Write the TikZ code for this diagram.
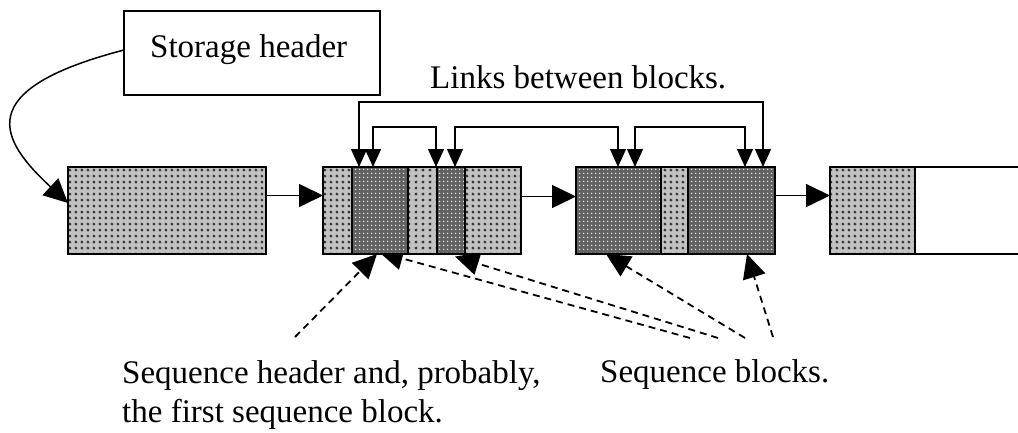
\documentclass[tikz,border=0pt]{standalone}
\usepackage{fontspec}
\setmainfont{Liberation Serif}
\usetikzlibrary{arrows.meta,patterns.meta}
\pgfdeclarelayer{bg}
\pgfsetlayers{bg,main}
\begin{document}
\begin{tikzpicture}[x=1pt,y=-1pt,
  seg/.style={line width=1.6pt, inner sep=0pt, outer sep=0pt, minimum height=87pt, anchor=north west},
  lightseg/.style={seg, fill=black!24, postaction={pattern={Dots[radius=1.7pt,distance=6.4pt]}, pattern color=black!78}, postaction={draw, line width=1.6pt}},
  darkseg/.style={seg, fill=black!62, postaction={pattern={Dots[radius=1pt,distance=4pt]}, pattern color=white!85!black}, postaction={draw, line width=1.6pt}},
  lbl/.style={font=\fontsize{33}{39}\selectfont, inner sep=0pt, anchor=base west, text=black},
  bigtip/.style={-{Triangle[length=24pt,width=23pt]}},
  solidarr/.style={bigtip, line width=1.5pt},
  dasharr/.style={bigtip, line width=1.8pt, dash pattern=on 7pt off 5pt},
  link/.style={line width=1.4pt, {Triangle[length=18pt,width=16pt]}-{Triangle[length=18pt,width=16pt]}},
  boxline/.style={line width=1.6pt}
]
\useasboundingbox (0,0) rectangle (1018,432);

% storage header
\node[draw, line width=1.5pt, inner sep=0pt, outer sep=0pt, minimum width=256pt, minimum height=84pt, anchor=north west] (sh) at (124,11) {};
\node[lbl] (shtext) at (150,57) {Storage header};

% blocks
\node[lightseg, minimum width=198pt] (b1) at (68,167) {};
\node[lightseg, minimum width=29pt] (b2a) at (323,167) {};
\node[darkseg,  minimum width=56pt] (b2b) at (352,167) {};
\node[lightseg, minimum width=29pt] (b2c) at (408,167) {};
\node[darkseg,  minimum width=28pt] (b2d) at (437,167) {};
\node[lightseg, minimum width=56pt] (b2e) at (465,167) {};
\node[darkseg,  minimum width=85pt] (b3a) at (576,167) {};
\node[lightseg, minimum width=27pt] (b3b) at (661,167) {};
\node[darkseg,  minimum width=87pt] (b3c) at (688,167) {};
\node[lightseg, minimum width=85pt] (b4a) at (830,167) {};
\coordinate (e4t) at (1018,167);
\coordinate (e4b) at (1018,254);
\draw[boxline] (b4a.north east) -- (e4t);
\draw[boxline] (b4a.south east) -- (e4b);

% arrows between blocks
\draw[solidarr] ([yshift=15pt]b1.east) -- ([yshift=15pt]b2a.west);
\draw[solidarr] ([yshift=14pt]b2e.east) -- ([yshift=14pt]b3a.west);
\draw[solidarr] ([yshift=15pt]b3c.east) -- ([yshift=15pt]b4a.west);

% storage header to first block
\draw[solidarr] ([yshift=3pt]sh.west) .. controls (-30,90) and (0,140) .. ([yshift=7.5pt]b1.west);

% links between blocks
\node[lbl] (linkstext) at (430,88) {Links between blocks.};
\coordinate (lv1) at (0,102);
\coordinate (lv2) at (0,127);
\coordinate (t1) at ([xshift=7pt]b2b.north west);
\coordinate (t2) at ([xshift=21pt]b2b.north west);
\coordinate (t3) at ([xshift=28pt]b2c.north west);
\coordinate (t4) at ([xshift=18pt]b2d.north west);
\coordinate (t5) at ([xshift=42pt]b3a.north west);
\coordinate (t6) at ([xshift=59pt]b3a.north west);
\coordinate (t7) at ([xshift=57pt]b3c.north west);
\coordinate (t8) at ([xshift=75pt]b3c.north west);
\draw[link] (t1) -- (t1 |- lv1) -- (t8 |- lv1) -- (t8);
\draw[link] (t2) -- (t2 |- lv2) -- (t3 |- lv2) -- (t3);
\draw[link] (t4) -- (t4 |- lv2) -- (t5 |- lv2) -- (t5);
\draw[link] (t6) -- (t6 |- lv2) -- (t7 |- lv2) -- (t7);

% labels at the bottom
\node[lbl, align=left] (seqhdr) at (122,422) {Sequence header and, probably,\\the first sequence block.};
\node[lbl] (seqblk) at (600,382) {Sequence blocks.};

% dashed pointers (behind the blocks)
\coordinate (s1) at (295,337);
\coordinate (s2) at (690,338);
\coordinate (s3) at (718,338);
\coordinate (s4) at (745,338);
\coordinate (s5) at (773,337);
\coordinate (d1) at ([xshift=25pt]b2b.south west);
\coordinate (d2) at ([xshift=27pt,yshift=2pt]b2b.south west);
\coordinate (d3) at ([xshift=18pt,yshift=-2.5pt]b2d.south west);
\coordinate (d4) at ([xshift=30pt]b3a.south west);
\coordinate (d5) at ([xshift=59pt]b3c.south west);
\begin{pgfonlayer}{bg}
\draw[dasharr] (s1) -- (d1);
\draw[dasharr] (s2) -- (d2);
\draw[dasharr] (s3) -- (d3);
\draw[dasharr] (s4) -- (d4);
\draw[dasharr] (s5) -- (d5);
\end{pgfonlayer}
\end{tikzpicture}
\end{document}
